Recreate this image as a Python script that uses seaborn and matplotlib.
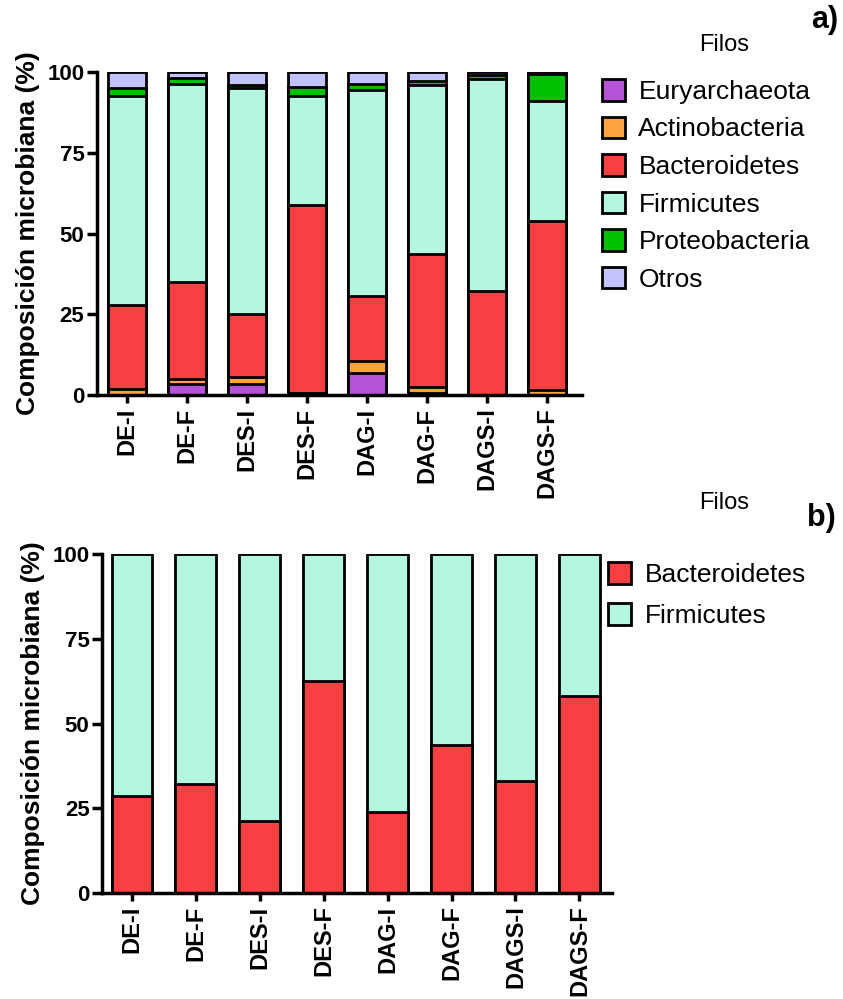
"""Stacked phylum composition (a) and Bacteroidetes/Firmicutes ratio (b)."""

import matplotlib
matplotlib.use("Agg")
import matplotlib.pyplot as plt
from matplotlib.patches import Patch
import pandas as pd
import seaborn as sns

SAMPLES = ["DE-I", "DE-F", "DES-I", "DES-F", "DAG-I", "DAG-F", "DAGS-I", "DAGS-F"]

# panel a, % per phylum (bottom to top)
EURY = [0.0, 3.3, 3.3, 0.7, 6.7, 0.7, 0.0, 0.0]
ACTINO = [2.0, 1.7, 2.4, 0.0, 3.7, 1.9, 0.0, 1.5]
BACT = [26.0, 30.0, 19.5, 58.0, 20.4, 41.2, 32.3, 52.4]
FIRM = [64.5, 61.4, 70.0, 34.0, 63.5, 52.3, 65.6, 37.1]
PROTEO = [2.5, 1.6, 0.8, 2.6, 2.1, 1.1, 1.1, 8.5]
OTROS = [5.0, 2.0, 4.0, 4.7, 3.6, 2.8, 1.0, 0.5]

# panel b, Bacteroidetes vs Firmicutes only
BACT_B = [28.6, 32.1, 21.3, 62.5, 23.8, 43.6, 33.1, 58.2]
FIRM_B = [71.4, 67.9, 78.7, 37.5, 76.2, 56.4, 66.9, 41.8]

PHYLA = ["Euryarchaeota", "Actinobacteria", "Bacteroidetes", "Firmicutes",
         "Proteobacteria", "Otros"]
COLORS = {
    "Euryarchaeota": "#b652d8",
    "Actinobacteria": "#ffa33f",
    "Bacteroidetes": "#f84042",
    "Firmicutes": "#b5f6df",
    "Proteobacteria": "#00c000",
    "Otros": "#c3c3ff",
}

W, H = 843, 999


def stacked(ax, df, phyla, width):
    # draw cumulative bars from the top layer down so each segment shows
    cum = df[phyla].cumsum(axis=1)
    for ph in reversed(phyla):
        sns.barplot(x=df["sample"], y=cum[ph], order=SAMPLES, color=COLORS[ph],
                    saturation=1, edgecolor="black", linewidth=2.0, width=width,
                    errorbar=None, ax=ax)
    ax.set_ylim(0, 100)
    ax.set_yticks([0, 25, 50, 75, 100])
    ax.set_xlabel("")
    ax.set_ylabel("Composición microbiana (%)", fontsize=19, fontweight="bold", labelpad=5)
    ax.tick_params(axis="x", rotation=90, labelsize=17, length=6, width=2.5, pad=3)
    ax.tick_params(axis="y", labelsize=16, length=7, width=2.5, pad=2)
    for lab in ax.get_xticklabels() + ax.get_yticklabels():
        lab.set_fontweight("bold")
    for s in ["top", "right"]:
        ax.spines[s].set_visible(False)
    for s in ["left", "bottom"]:
        ax.spines[s].set_linewidth(2.5)


def legend(fig, phyla, x, y, spacing):
    handles = [Patch(facecolor=COLORS[p], edgecolor="black", linewidth=2.0) for p in phyla]
    fig.legend(handles, phyla, loc="upper left", bbox_to_anchor=(x / W, 1 - y / H),
               frameon=False, fontsize=19, handlelength=0.88, handleheight=0.88,
               handletextpad=0.5, labelspacing=spacing, borderpad=0, borderaxespad=0)


def main():
    sns.set_style("ticks")
    plt.rcParams["font.family"] = ["Liberation Sans", "DejaVu Sans"]
    plt.rcParams.update({"text.color": "black", "axes.labelcolor": "black",
                         "xtick.color": "black", "ytick.color": "black",
                         "axes.edgecolor": "black"})

    df_a = pd.DataFrame({"sample": SAMPLES, "Euryarchaeota": EURY, "Actinobacteria": ACTINO,
                         "Bacteroidetes": BACT, "Firmicutes": FIRM,
                         "Proteobacteria": PROTEO, "Otros": OTROS})
    df_b = pd.DataFrame({"sample": SAMPLES, "Bacteroidetes": BACT_B, "Firmicutes": FIRM_B})

    fig = plt.figure(figsize=(W / 100, H / 100), dpi=100)

    ax_a = fig.add_axes([97 / W, 1 - 395 / H, (582 - 97) / W, 323 / H])
    stacked(ax_a, df_a, PHYLA, 0.64)
    ax_a.set_xlim(-0.5, 7.58)

    ax_b = fig.add_axes([102 / W, 1 - 893 / H, (612 - 102) / W, 339 / H])
    stacked(ax_b, df_b, ["Bacteroidetes", "Firmicutes"], 0.64)
    ax_b.set_xlim(-0.47, 7.51)

    legend(fig, PHYLA, 602, 79, 0.48)
    legend(fig, ["Bacteroidetes", "Firmicutes"], 608, 562, 0.61)

    fig.text(724 / W, 1 - 45 / H, "Filos", fontsize=17, ha="center", va="center")
    fig.text(724 / W, 1 - 503 / H, "Filos", fontsize=17, ha="center", va="center")
    fig.text(825 / W, 1 - 20 / H, "a)", fontsize=22, fontweight="bold", ha="center", va="center")
    fig.text(821 / W, 1 - 518 / H, "b)", fontsize=22, fontweight="bold", ha="center", va="center")

    fig.savefig("out.png", dpi=100)
    plt.close(fig)


if __name__ == "__main__":
    main()
